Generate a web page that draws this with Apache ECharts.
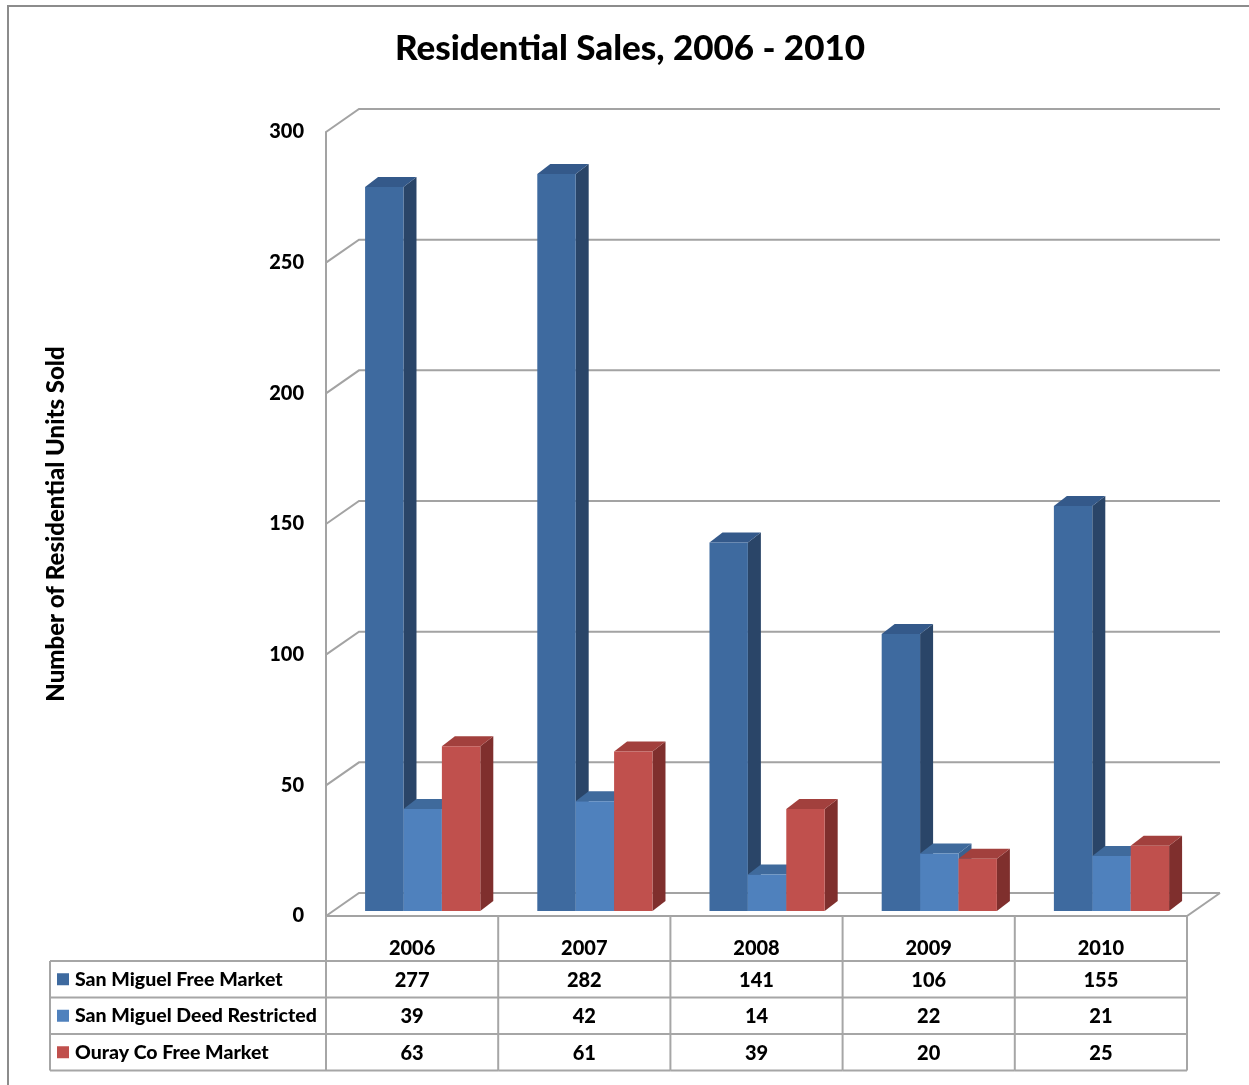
<!DOCTYPE html>
<html>
<head>
<meta charset="utf-8">
<title>Residential Sales, 2006 - 2010</title>
<script src="https://cdn.jsdelivr.net/npm/echarts@6/dist/echarts.min.js"></script>
<style>
  html, body { margin: 0; padding: 0; background: #ffffff; }
  #chart { width: 1249px; height: 1085px; }
</style>
</head>
<body>
<div id="chart"></div>
<script>
// ---- data ----
const years = ['2006', '2007', '2008', '2009', '2010'];
const seriesNames = ['San Miguel Free Market', 'San Miguel Deed Restricted', 'Ouray Co Free Market'];
const freeMarket = [277, 282, 141, 106, 155];
const deedRestricted = [39, 42, 14, 22, 21];
const ourayFreeMarket = [63, 61, 39, 20, 25];
const yTicks = [0, 50, 100, 150, 200, 250, 300];

// ---- styling ----
const FONT = 'Lato, "Open Sans", sans-serif';
const WEIGHT = 900;
const GRID_COLOR = '#a3a3a3';
const TABLE_COLOR = '#a6a6a6';
const faceColors = [
  { front: '#3e6a9f', side: '#2a4568', top: '#34598a' },
  { front: '#4f81bd', side: '#3a6190', top: '#3f6a9c' },
  { front: '#c0504d', side: '#7f2f2d', top: '#a2403d' }
];
// depth of the chart box (side wall / floor) and of each bar
const WALL_DX = 33, WALL_DY = 23;
const BAR_DX = 13, BAR_DY = 10, BAR_INSET = 5;
// table layout below the floor
const HEADER_H = 45, ROW_H = 36.5, LEGEND_W = 276;

const chart = echarts.init(document.getElementById('chart'), null, { renderer: 'canvas' });

function barRenderer(s) {
  return function (params, api) {
    const i = api.value(0), v = api.value(1);
    const base = api.coord([i, 0]);
    const top = api.coord([i, v]);
    const band = api.size([1, 0])[0];
    const w = band * 0.223;
    const x0 = base[0] - band * 0.273 + w * s;
    const x1 = x0 + w;
    const yb = base[1] - BAR_INSET, yt = top[1] - BAR_INSET;
    const c = faceColors[s];
    return {
      type: 'group',
      children: [
        { type: 'polygon', shape: { points: [[x1, yt], [x1 + BAR_DX, yt - BAR_DY], [x1 + BAR_DX, yb - BAR_DY], [x1, yb]] },
          style: { fill: c.side } },
        { type: 'polygon', shape: { points: [[x0, yt], [x0 + BAR_DX, yt - BAR_DY], [x1 + BAR_DX, yt - BAR_DY], [x1, yt]] },
          style: { fill: c.top } },
        { type: 'rect', shape: { x: x0, y: yt, width: w, height: yb - yt },
          style: { fill: c.front } }
      ]
    };
  };
}

function gridRenderer(params, api) {
  const v = api.value(0);
  const p = api.coord([0, v]);
  const x0 = params.coordSys.x, x1 = x0 + params.coordSys.width;
  const y = p[1];
  const children = [
    { type: 'polyline', shape: { points: [[x0, y], [x0 + WALL_DX, y - WALL_DY], [x1 + WALL_DX, y - WALL_DY]] },
      style: { stroke: GRID_COLOR, lineWidth: 2, fill: null } }
  ];
  if (v === 0) {
    children.push({ type: 'polyline', shape: { points: [[x0, y], [x1, y], [x1 + WALL_DX, y - WALL_DY]] },
      style: { stroke: GRID_COLOR, lineWidth: 2, fill: null } });
  }
  return { type: 'group', children: children };
}

function tableRenderer(params, api) {
  const i = api.value(0);
  const vals = [api.value(1), api.value(2), api.value(3)];
  const base = api.coord([i, 0]);
  const band = api.size([1, 0])[0];
  const cx = base[0];
  const left = cx - band / 2, right = cx + band / 2;
  const top = base[1];
  const rowTops = [top + HEADER_H, top + HEADER_H + ROW_H, top + HEADER_H + 2 * ROW_H, top + HEADER_H + 3 * ROW_H];
  const bottom = rowTops[3];
  const line = (a, b) => ({ type: 'line', shape: { x1: a[0], y1: a[1], x2: b[0], y2: b[1] },
    style: { stroke: TABLE_COLOR, lineWidth: 2 } });
  const text = (str, x, y, align, size) => ({ type: 'text', x: x, y: y,
    style: { text: str, font: WEIGHT + ' ' + (size || 20) + 'px ' + FONT, fill: '#000',
      align: align || 'center', verticalAlign: 'middle' } });
  const children = [line([left, top], [left, bottom])];
  if (i === years.length - 1) children.push(line([right, top], [right, bottom]));
  rowTops.forEach(y => children.push(line([left, y], [right, y])));
  children.push(text(years[i], cx, top + 33));
  vals.forEach((v, k) => children.push(text(String(v), cx, rowTops[k] + ROW_H / 2 + 1)));
  if (i === 0) {
    const lx = left - LEGEND_W;
    children.push(line([lx, rowTops[0]], [lx, bottom]));
    rowTops.forEach(y => children.push(line([lx, y], [left, y])));
    seriesNames.forEach((name, k) => {
      const cy = rowTops[k] + ROW_H / 2;
      children.push({ type: 'rect', shape: { x: lx + 7, y: cy - 6, width: 12, height: 12 },
        style: { fill: faceColors[k].front } });
      children.push(text(name, lx + 25, cy, 'left', 19.5));
    });
  }
  return { type: 'group', children: children };
}

const seriesData = [freeMarket, deedRestricted, ourayFreeMarket];

chart.setOption({
  animation: false,
  backgroundColor: '#ffffff',
  graphic: [
    { type: 'rect', shape: { x: 8, y: 6, width: 1300, height: 1200 },
      style: { fill: null, stroke: '#8c8c8c', lineWidth: 2 }, silent: true },
    { type: 'text', x: 630, y: 49,
      style: { text: 'Residential Sales, 2006 - 2010', font: WEIGHT + ' 35px ' + FONT, fill: '#000',
        align: 'center', verticalAlign: 'middle' } }
  ],
  grid: { left: 326, right: 62, top: 132, bottom: 169, containLabel: false },
  xAxis: {
    type: 'category', data: years,
    axisLine: { show: false }, axisTick: { show: false }, axisLabel: { show: false }, splitLine: { show: false }
  },
  yAxis: {
    type: 'value', min: 0, max: 300, interval: 50,
    name: 'Number of Residential Units Sold', nameLocation: 'middle', nameRotate: 90, nameGap: 258,
    nameTextStyle: { fontFamily: FONT, fontWeight: WEIGHT, fontSize: 24, color: '#000' },
    axisLine: { show: true, lineStyle: { color: GRID_COLOR, width: 2 } },
    axisTick: { show: false },
    splitLine: { show: false },
    axisLabel: { margin: 22, padding: [8, 0, 0, 0], fontFamily: FONT, fontWeight: WEIGHT, fontSize: 20, color: '#000' }
  },
  series: [
    { type: 'custom', name: 'grid', renderItem: gridRenderer, data: yTicks.map(v => [v]),
      encode: { y: 0 }, z: 1, silent: true, clip: false },
    ...seriesData.map((arr, s) => ({
      type: 'custom', name: seriesNames[s], renderItem: barRenderer(s),
      data: arr.map((v, i) => [i, v]), encode: { x: 0, y: 1 }, z: 2 + s, clip: false
    })),
    { type: 'custom', name: 'table', renderItem: tableRenderer,
      data: years.map((y, i) => [i, freeMarket[i], deedRestricted[i], ourayFreeMarket[i]]),
      encode: { x: 0 }, z: 10, silent: true, clip: false }
  ]
});
</script>
</body>
</html>
